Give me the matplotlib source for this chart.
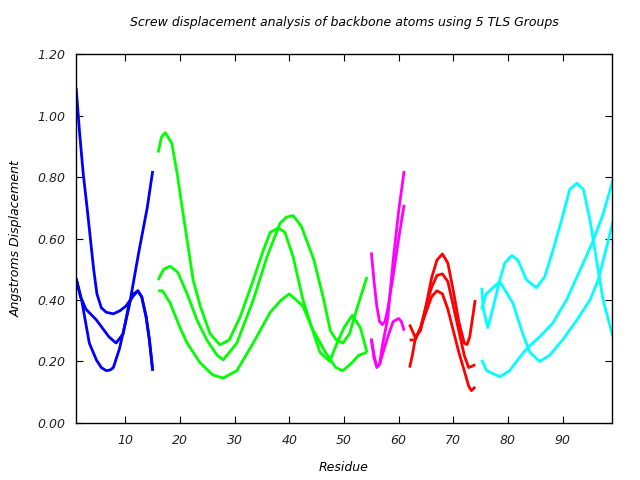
import matplotlib
matplotlib.use("Agg")
import matplotlib.pyplot as plt

# ── data: (residue, displacement) per curve ──
blue_1_x = [1, 1.6, 2.3, 3.0, 3.6, 4.2, 4.8, 5.6, 6.5, 7.8, 9.0, 10.1, 11.3, 12.3, 13.0, 13.8, 14.4, 15]
blue_1_y = [1.09, 0.95, 0.81, 0.70, 0.60, 0.50, 0.42, 0.375, 0.36, 0.355, 0.365, 0.38, 0.41, 0.43,
            0.41, 0.345, 0.27, 0.17]
blue_2_x = [1, 1.8, 2.8, 4.7, 7.0, 8.3, 9.6, 10.7, 11.5, 12.3, 13.0, 13.8, 14.4, 15]
blue_2_y = [0.47, 0.41, 0.37, 0.335, 0.28, 0.26, 0.29, 0.39, 0.42, 0.43, 0.41, 0.345, 0.27, 0.17]
blue_3_x = [1, 2, 3.4, 4.7, 5.6, 6.5, 7.2, 7.8, 8.9, 10.7, 12.5, 14, 15]
blue_3_y = [0.47, 0.40, 0.26, 0.205, 0.18, 0.17, 0.172, 0.18, 0.24, 0.38, 0.56, 0.70, 0.82]

green_1_x = [16, 16.6, 17.3, 18.5, 19.5, 20.4, 21.3, 22.4, 23.7, 25.5, 27.3, 29, 31, 33.4, 35.2,
             36.5, 38, 39.2, 40.7, 42.5, 44.1, 45.6, 47.4, 48.5, 50, 51.5, 53, 54.2]
green_1_y = [0.88, 0.93, 0.945, 0.91, 0.81, 0.70, 0.595, 0.465, 0.38, 0.29, 0.254, 0.27, 0.345, 0.465, 0.56,
             0.62, 0.635, 0.62, 0.54, 0.40, 0.31, 0.23, 0.20, 0.25, 0.31, 0.35, 0.31, 0.23]
green_2_x = [16, 17, 18.2, 19.6, 21.3, 23.1, 24.9, 26.8, 27.9, 30.4, 33.4, 35.9, 38.3, 39.5, 40.7,
             42.2, 44.5, 46.3, 47.5, 48.6, 49.8, 51, 52.5, 54.2]
green_2_y = [0.465, 0.50, 0.51, 0.49, 0.42, 0.335, 0.27, 0.22, 0.205, 0.26, 0.40, 0.54, 0.65, 0.67, 0.675,
             0.64, 0.53, 0.40, 0.30, 0.27, 0.26, 0.29, 0.38, 0.475]
green_3_x = [16, 16.8, 18.2, 20, 21.3, 23.7, 26, 27.9, 30.4, 33.4, 36.5, 38.5, 40, 42.5, 44.1,
             46.6, 48.5, 49.8, 51.4, 52.7, 54.2]
green_3_y = [0.43, 0.43, 0.39, 0.31, 0.26, 0.195, 0.156, 0.146, 0.17, 0.26, 0.36, 0.40, 0.42, 0.38, 0.31,
             0.23, 0.18, 0.17, 0.195, 0.22, 0.23]

magenta_1_x = [55, 55.5, 56, 56.5, 57, 57.5, 58, 59, 60, 61]
magenta_1_y = [0.555, 0.46, 0.38, 0.33, 0.32, 0.33, 0.37, 0.48, 0.60, 0.71]
magenta_2_x = [55, 55.5, 56, 56.5, 57, 58, 59, 60, 61]
magenta_2_y = [0.275, 0.22, 0.18, 0.19, 0.25, 0.34, 0.53, 0.69, 0.82]
magenta_3_x = [55, 55.5, 56, 56.5, 57, 58, 59, 60, 60.5, 61]
magenta_3_y = [0.27, 0.21, 0.185, 0.19, 0.22, 0.28, 0.33, 0.34, 0.33, 0.30]

red_1_x = [62, 63, 64, 65, 66, 67, 68, 69, 70, 71, 72, 72.5, 73, 74]
red_1_y = [0.32, 0.28, 0.30, 0.38, 0.47, 0.53, 0.55, 0.52, 0.43, 0.33, 0.26, 0.255, 0.28, 0.40]
red_2_x = [62, 63, 64, 65, 66, 67, 68, 69, 70, 71, 72, 72.8, 73.5, 74]
red_2_y = [0.27, 0.27, 0.31, 0.38, 0.44, 0.48, 0.485, 0.46, 0.38, 0.30, 0.22, 0.18, 0.185, 0.19]
red_3_x = [62, 62.5, 63, 64, 65, 66, 67, 68, 69, 70, 71, 72, 72.8, 73.3, 74]
red_3_y = [0.18, 0.22, 0.27, 0.31, 0.36, 0.41, 0.43, 0.42, 0.37, 0.30, 0.23, 0.17, 0.12, 0.105, 0.117]

cyan_1_x = [75.2, 75.5, 76.3, 77.2, 78.5, 79.4, 80.7, 81.8, 83.4, 85.2, 86.7, 88.2, 89.8,
            91.3, 92.6, 93.8, 95, 96.2, 97.4, 99.2]
cyan_1_y = [0.44, 0.37, 0.31, 0.37, 0.465, 0.52, 0.545, 0.53, 0.465, 0.44, 0.475, 0.56, 0.66,
            0.76, 0.78, 0.76, 0.66, 0.53, 0.40, 0.28]
cyan_2_x = [75.2, 76, 78.5, 80.9, 82.7, 84, 85.8, 87.6, 90, 92.6, 95, 96.5, 98, 99.2]
cyan_2_y = [0.37, 0.42, 0.46, 0.39, 0.29, 0.23, 0.20, 0.22, 0.27, 0.335, 0.40, 0.465, 0.57, 0.655]
cyan_3_x = [75.2, 76.1, 78.5, 80.3, 82.2, 83.6, 85.8, 88.2, 90.7, 93, 95.4, 97.4, 99.2]
cyan_3_y = [0.205, 0.17, 0.15, 0.17, 0.215, 0.245, 0.28, 0.325, 0.40, 0.49, 0.585, 0.68, 0.79]

groups = [
    ("#0000ff", [(blue_1_x, blue_1_y), (blue_2_x, blue_2_y), (blue_3_x, blue_3_y)]),
    ("#00ff00", [(green_1_x, green_1_y), (green_2_x, green_2_y), (green_3_x, green_3_y)]),
    ("#ff00ff", [(magenta_1_x, magenta_1_y), (magenta_2_x, magenta_2_y), (magenta_3_x, magenta_3_y)]),
    ("#ff0000", [(red_1_x, red_1_y), (red_2_x, red_2_y), (red_3_x, red_3_y)]),
    ("#00ffff", [(cyan_1_x, cyan_1_y), (cyan_2_x, cyan_2_y), (cyan_3_x, cyan_3_y)]),
]

x_ticks = [10, 20, 30, 40, 50, 60, 70, 80, 90]
y_ticks = [0.0, 0.2, 0.4, 0.6, 0.8, 1.0, 1.2]

fig = plt.figure(figsize=(6.4, 4.8), dpi=100)
ax = fig.add_axes([0.119, 0.119, 0.837, 0.768])

for color, curves in groups:
    for xs, ys in curves:
        ax.plot(xs, ys, color=color, linewidth=2.0, solid_capstyle="butt")

ax.set_xlim(1, 99)
ax.set_ylim(0, 1.2)
ax.set_xticks(x_ticks)
ax.set_yticks(y_ticks)
ax.set_yticklabels([f"{v:.2f}" for v in y_ticks])
ax.tick_params(direction="in", length=5, width=0.8, top=True, right=True,
               labelsize=9, pad=8)
for lab in ax.get_xticklabels() + ax.get_yticklabels():
    lab.set_fontstyle("italic")
    lab.set_color("#222222")
for spine in ax.spines.values():
    spine.set_linewidth(1.0)

ax.set_title("Screw displacement analysis of backbone atoms using 5 TLS Groups",
             fontsize=9, fontstyle="italic", pad=20)
ax.set_xlabel("Residue", fontsize=9, fontstyle="italic", labelpad=10)
ax.set_ylabel("Angstroms Displacement", fontsize=9, fontstyle="italic", labelpad=10)

fig.savefig("out.png", dpi=100)
